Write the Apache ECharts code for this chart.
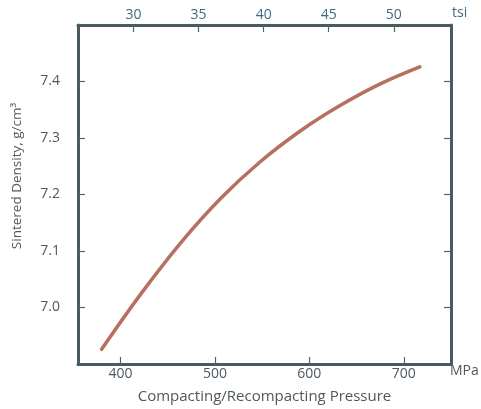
<!DOCTYPE html>
<html><head><meta charset="utf-8">
<script src="https://cdn.jsdelivr.net/npm/echarts@6/dist/echarts.min.js"></script>
<style>html,body{margin:0;padding:0;background:#fff}#c{width:481px;height:409px}</style>
</head><body><div id="c"></div>
<script>
// Data
const pressureMPa = [380, 422, 464, 506, 548, 590, 632, 674, 717];
const density =     [6.926, 7.025, 7.115, 7.193, 7.258, 7.312, 7.357, 7.395, 7.426];
const mpaTicks = [400, 500, 600, 700];
const tsiTicks = [30, 35, 40, 45, 50];
const densityTicks = [7.0, 7.1, 7.2, 7.3, 7.4];
const xMin = 355, xMax = 750, yMin = 6.9, yMax = 7.5;
const MPA_PER_TSI = 13.7895;

const frame = '#4b5a60';
const chart = echarts.init(document.getElementById('c'), null, {renderer: 'canvas'});
const font = 'Open Sans';
const txt = '#4e585e';
const tickStyle = {show: true, inside: true, length: 7, lineStyle: {color: '#55636a', width: 1.2}};
chart.setOption({
  animation: false,
  grid: {left: 78, right: 30, top: 25, bottom: 45},
  xAxis: [{
    type: 'value', position: 'bottom', min: xMin, max: xMax,
    axisLine: {show: true, lineStyle: {color: frame, width: 3}},
    axisTick: Object.assign({customValues: mpaTicks}, tickStyle),
    axisLabel: {customValues: mpaTicks, color: txt, fontSize: 14, fontFamily: font, margin: 3},
    splitLine: {show: false},
    name: 'Compacting/Recompacting Pressure', nameLocation: 'middle', nameGap: 25,
    nameTextStyle: {color: txt, fontSize: 15, fontFamily: font}
  }, {
    type: 'value', position: 'top', min: xMin / MPA_PER_TSI, max: xMax / MPA_PER_TSI,
    axisLine: {show: true, lineStyle: {color: frame, width: 3}},
    axisTick: Object.assign({customValues: tsiTicks}, tickStyle),
    axisLabel: {customValues: tsiTicks, color: '#3f6a86', fontSize: 14, fontFamily: font, margin: 3},
    splitLine: {show: false}
  }],
  yAxis: [{
    type: 'value', position: 'left', min: yMin, max: yMax,
    axisLine: {show: true, lineStyle: {color: frame, width: 3}},
    axisTick: Object.assign({customValues: densityTicks}, tickStyle),
    axisLabel: {customValues: densityTicks, color: txt, fontSize: 14, fontFamily: font, margin: 18,
      formatter: v => v.toFixed(1)},
    splitLine: {show: false}
  }, {
    type: 'value', position: 'right', min: yMin, max: yMax,
    axisLine: {show: true, lineStyle: {color: frame, width: 3}},
    axisTick: Object.assign({customValues: densityTicks}, tickStyle),
    axisLabel: {show: false},
    splitLine: {show: false}
  }],
  graphic: [
    {type: 'text', left: 452, top: 6, style: {text: 'tsi', fill: '#3f6a86', font: '14px "Open Sans"'}},
    {type: 'text', left: 450, top: 364, style: {text: 'MPa', fill: txt, font: '14px "Open Sans"'}},
    {type: 'text', x: 17, y: 176, rotation: Math.PI / 2,
      style: {text: 'Sintered Density, g/cm³', fill: txt, font: '13.5px "Open Sans"', align: 'center', verticalAlign: 'middle'}}
  ],
  series: [{
    type: 'line', xAxisIndex: 0, yAxisIndex: 0, smooth: 0.4, showSymbol: false,
    lineStyle: {color: '#b5705f', width: 3.5, cap: 'round'},
    data: pressureMPa.map((p, i) => [p, density[i]])
  }]
});
</script></body></html>
